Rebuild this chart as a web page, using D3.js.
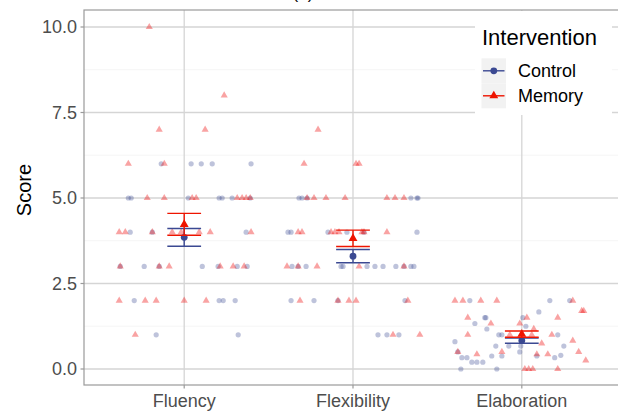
<!DOCTYPE html>
<html>
<head>
<meta charset="utf-8">
<script src="https://cdn.jsdelivr.net/npm/d3@7"></script>
<style>
  body { margin: 0; background: #fff; }
  text { font-family: "Liberation Sans", Arial, sans-serif; }
</style>
</head>
<body>
<div class="chartHolder"></div>
<script>
var w = 618,
    h = 411;

var categories = ["Fluency", "Flexibility", "Elaboration"];
var groups = ["Control", "Memory"];
var yTicks = [0, 2.5, 5, 7.5, 10];
var yMinor = [1.25, 3.75, 6.25, 8.75];

// raw scores: [horizontal jitter (category units), score]
var fluencyControl = [[-0.136,6],[0.041,6],[0.101,6],[0.166,6],[0.396,6],
    [-0.331,5],[-0.314,5],[0.024,5],[0.207,5],[0.225,5],[0.284,5],[0.391,5],
    [-0.320,4],[-0.189,4],[0.367,4],
    [-0.379,3],[-0.237,3],[-0.148,3],[0.107,3],[0.201,3],[0.314,3],[0.373,3],
    [-0.296,2],[0.207,2],[0.231,2],[0.302,2],
    [-0.166,1],[0.320,1]];
var fluencyMemory = [[-0.207,10],[0.237,8],[-0.148,7],[0.124,7],[-0.331,6],[-0.118,6],
    [-0.219,5],[-0.118,5],[0.047,5],[0.071,5],[0.314,5],[0.343,5],[0.367,5],[0.391,5],
    [-0.385,4],[-0.349,4],[-0.189,4],[-0.071,4],[-0.018,4],[0.089,4],[0.154,4],[0.396,4],
    [-0.379,3],[-0.148,3],[-0.089,3],[0.213,3],[0.290,3],[0.355,3],
    [-0.385,2],[-0.231,2],[-0.166,2],[0.0,2],[0.130,2],
    [-0.290,1]];
var flexibilityControl = [[-0.320,5],[-0.302,5],[-0.272,5],[0.343,5],[0.385,5],[0.379,5],
    [-0.385,4],[-0.367,4],[-0.148,4],[-0.036,4],[0.065,4],[0.379,4],
    [-0.361,3],[-0.325,3],[-0.278,3],[-0.071,3],[-0.059,3],[0.083,3],[0.130,3],[0.178,3],
    [0.254,3],[0.302,3],[0.343,3],[0.361,3],
    [-0.367,2],[-0.231,2],[-0.089,2],[0.308,2],
    [0.148,1],[0.201,1],[0.272,1]];
var flexibilityMemory = [[-0.207,7],[-0.290,6],[0.018,6],[0.036,6],
    [-0.272,5],[-0.231,5],[-0.160,5],[-0.047,5],[0.201,5],[0.249,5],[0.302,5],
    [-0.325,4],[-0.302,4],[-0.130,4],[-0.107,4],[-0.083,4],[0.053,4],[0.065,4],[0.201,4],
    [-0.391,3],[-0.325,3],[-0.213,3],[0.036,3],[0.302,3],
    [-0.314,2],[-0.089,2],[-0.024,2],[0.018,2],[0.325,2],
    [0.237,1],[0.396,1]];
var elaborationControl = [[-0.308,2],[0.166,2],[0.284,2],[-0.219,1.5],[-0.213,1.5],
    [-0.278,1.33],[-0.207,1.17],[0.101,1.67],[0.006,1.5],[0.024,1.25],
    [-0.136,1],[-0.118,1],[0.213,1],[-0.396,0.8],[-0.154,0.67],[-0.077,0.67],
    [-0.012,0.5],[0.249,0.67],[-0.006,0.67],[-0.379,0.5],
    [-0.355,0.33],[-0.325,0.33],[-0.296,0.2],[-0.266,0.2],[-0.231,0.2],
    [-0.178,0.38],[-0.118,0.38],[0.089,0.38],[0.195,0.33],[0.231,0.4],
    [-0.361,0],[-0.148,0]];
var elaborationMemory = [[-0.396,2],[-0.349,2],[-0.243,2],[-0.148,2],
    [-0.320,1.5],[-0.183,1.33],[-0.320,1],[-0.379,0.5],[-0.266,0.43],[-0.118,0.5],
    [-0.071,1],[-0.012,1.33],[0.030,1.5],[0.071,1.17],[0.059,1],[0.118,0.75],
    [0.089,0.43],[0.154,0.43],[0.178,1],[0.213,1.5],[0.302,2],[0.355,1.7],[0.367,1.7],
    [0.302,0.83],[0.337,0.5],[0.379,0.25],
    [0.018,0],[0.041,0],[0.065,0],[0.213,0]];

// group means and standard errors per category
var meanControl = [3.85, 3.30, 0.83];
var seControl = [0.26, 0.195, 0.075];
var meanMemory = [4.23, 3.82, 1.02];
var seMemory = [0.32, 0.24, 0.09];

var rawControl = [fluencyControl, flexibilityControl, elaborationControl];
var rawMemory = [fluencyMemory, flexibilityMemory, elaborationMemory];

var colors = {Control: "#3B4992", Memory: "#EE1400"};

var svg = d3.select(".chartHolder").append("svg")
    .attr("width", w)
    .attr("height", h);

var panel = {left: 84, top: 10, right: 623, bottom: 385};

var x = d3.scaleLinear().domain([1, 3]).range([184.2, 521.8]);
var y = d3.scaleLinear().domain([0, 10]).range([369, 27]);

svg.append("defs").append("clipPath").attr("id", "clipPanel")
    .append("rect")
    .attr("x", panel.left).attr("y", panel.top)
    .attr("width", panel.right - panel.left).attr("height", panel.bottom - panel.top);

// grid
var grid = svg.append("g").attr("clip-path", "url(#clipPanel)");
grid.selectAll(".minorY").data(yMinor).enter().append("line")
    .attr("x1", panel.left).attr("x2", panel.right)
    .attr("y1", d => y(d)).attr("y2", d => y(d))
    .attr("stroke", "#efefef").attr("stroke-width", 0.6);
grid.selectAll(".majorY").data(yTicks).enter().append("line")
    .attr("x1", panel.left).attr("x2", panel.right)
    .attr("y1", d => y(d)).attr("y2", d => y(d))
    .attr("stroke", "#d5d5d5").attr("stroke-width", 1.3);
grid.selectAll(".majorX").data(categories).enter().append("line")
    .attr("x1", (d, i) => x(i + 1)).attr("x2", (d, i) => x(i + 1))
    .attr("y1", panel.top).attr("y2", panel.bottom)
    .attr("stroke", "#d5d5d5").attr("stroke-width", 1.3);

// jittered raw points
var pts = svg.append("g").attr("clip-path", "url(#clipPanel)");
rawControl.forEach(function(list, i) {
    pts.selectAll(".ptC" + i).data(list).enter().append("circle")
        .attr("cx", d => x(i + 1 + d[0]))
        .attr("cy", d => y(d[1]))
        .attr("r", 2.6)
        .attr("fill", colors.Control)
        .attr("fill-opacity", 0.33);
});
rawMemory.forEach(function(list, i) {
    pts.selectAll(".ptM" + i).data(list).enter().append("path")
        .attr("d", d3.symbol().type(d3.symbolTriangle).size(22))
        .attr("transform", d => "translate(" + x(i + 1 + d[0]) + "," + y(d[1]) + ")")
        .attr("fill", "#EE0000")
        .attr("fill-opacity", 0.36);
});

// means with error bars
function drawSummary(means, ses, col, isTri) {
    var g = svg.append("g");
    means.forEach(function(m, i) {
        var cx = x(i + 1);
        var lo = m - ses[i], hi = m + ses[i];
        g.append("line").attr("x1", cx).attr("x2", cx)
            .attr("y1", y(lo)).attr("y2", y(hi))
            .attr("stroke", col).attr("stroke-width", 1.4);
        [lo, hi].forEach(function(v) {
            g.append("line").attr("x1", x(i + 0.9)).attr("x2", x(i + 1.1))
                .attr("y1", y(v)).attr("y2", y(v))
                .attr("stroke", col).attr("stroke-width", 1.4);
        });
        if (isTri)
            g.append("path")
                .attr("d", d3.symbol().type(d3.symbolTriangle).size(34))
                .attr("transform", "translate(" + cx + "," + y(m) + ")")
                .attr("fill", col);
        else
            g.append("circle").attr("cx", cx).attr("cy", y(m)).attr("r", 3.4).attr("fill", col);
    });
}
drawSummary(meanControl, seControl, colors.Control, false);
drawSummary(meanMemory, seMemory, colors.Memory, true);

// panel border
svg.append("rect")
    .attr("x", panel.left).attr("y", panel.top)
    .attr("width", panel.right - panel.left).attr("height", panel.bottom - panel.top)
    .attr("fill", "none").attr("stroke", "#9a9a9a").attr("stroke-width", 1.2);

// axes
svg.selectAll(".yTick").data(yTicks).enter().append("line")
    .attr("x1", panel.left - 3.5).attr("x2", panel.left)
    .attr("y1", d => y(d)).attr("y2", d => y(d))
    .attr("stroke", "#9a9a9a").attr("stroke-width", 1.2);
svg.selectAll(".yLab").data(yTicks).enter().append("text")
    .attr("x", 77).attr("y", d => y(d) + 6.3)
    .attr("text-anchor", "end")
    .attr("fill", "#4d4d4d")
    .style("font-size", "18px")
    .text(d => d3.format(".1f")(d));
svg.selectAll(".xTick").data(categories).enter().append("line")
    .attr("x1", (d, i) => x(i + 1)).attr("x2", (d, i) => x(i + 1))
    .attr("y1", panel.bottom).attr("y2", panel.bottom + 3.5)
    .attr("stroke", "#9a9a9a").attr("stroke-width", 1.2);
svg.selectAll(".xLab").data(categories).enter().append("text")
    .attr("x", (d, i) => x(i + 1)).attr("y", 407)
    .attr("text-anchor", "middle")
    .attr("fill", "#4d4d4d")
    .style("font-size", "18px")
    .text(d => d);

svg.append("text")
    .attr("transform", "translate(31," + 190 + ") rotate(-90)")
    .attr("text-anchor", "middle")
    .attr("fill", "#000")
    .style("font-size", "20px")
    .text("Score");

// title, cropped by the top edge in the reference
svg.append("text")
    .attr("x", 303).attr("y", -1.5)
    .attr("text-anchor", "middle")
    .style("font-size", "17px")
    .text("(a)");

// legend
var lg = svg.append("g");
lg.append("rect").attr("x", 475).attr("y", 11).attr("width", 137).attr("height", 104)
    .attr("fill", "#fff");
lg.append("text").attr("x", 482).attr("y", 44.5)
    .style("font-size", "22px").attr("fill", "#000")
    .text("Intervention");
groups.forEach(function(gname, i) {
    var cy = 70.8 + i * 25;
    lg.append("rect").attr("x", 481.5).attr("y", cy - 12.5).attr("width", 24.5).attr("height", 25)
        .attr("fill", "#f2f2f2");
    lg.append("line").attr("x1", 483).attr("x2", 504.5).attr("y1", cy).attr("y2", cy)
        .attr("stroke", colors[gname]).attr("stroke-width", 1.4);
    if (gname == "Memory")
        lg.append("path").attr("d", d3.symbol().type(d3.symbolTriangle).size(34))
            .attr("transform", "translate(493.8," + cy + ")")
            .attr("fill", colors[gname]);
    else
        lg.append("circle").attr("cx", 493.8).attr("cy", cy).attr("r", 3.4)
            .attr("fill", colors[gname]);
    lg.append("text").attr("x", 518).attr("y", cy + 6.6)
        .style("font-size", "18px").attr("fill", "#000")
        .text(gname);
});
</script>
</body>
</html>
